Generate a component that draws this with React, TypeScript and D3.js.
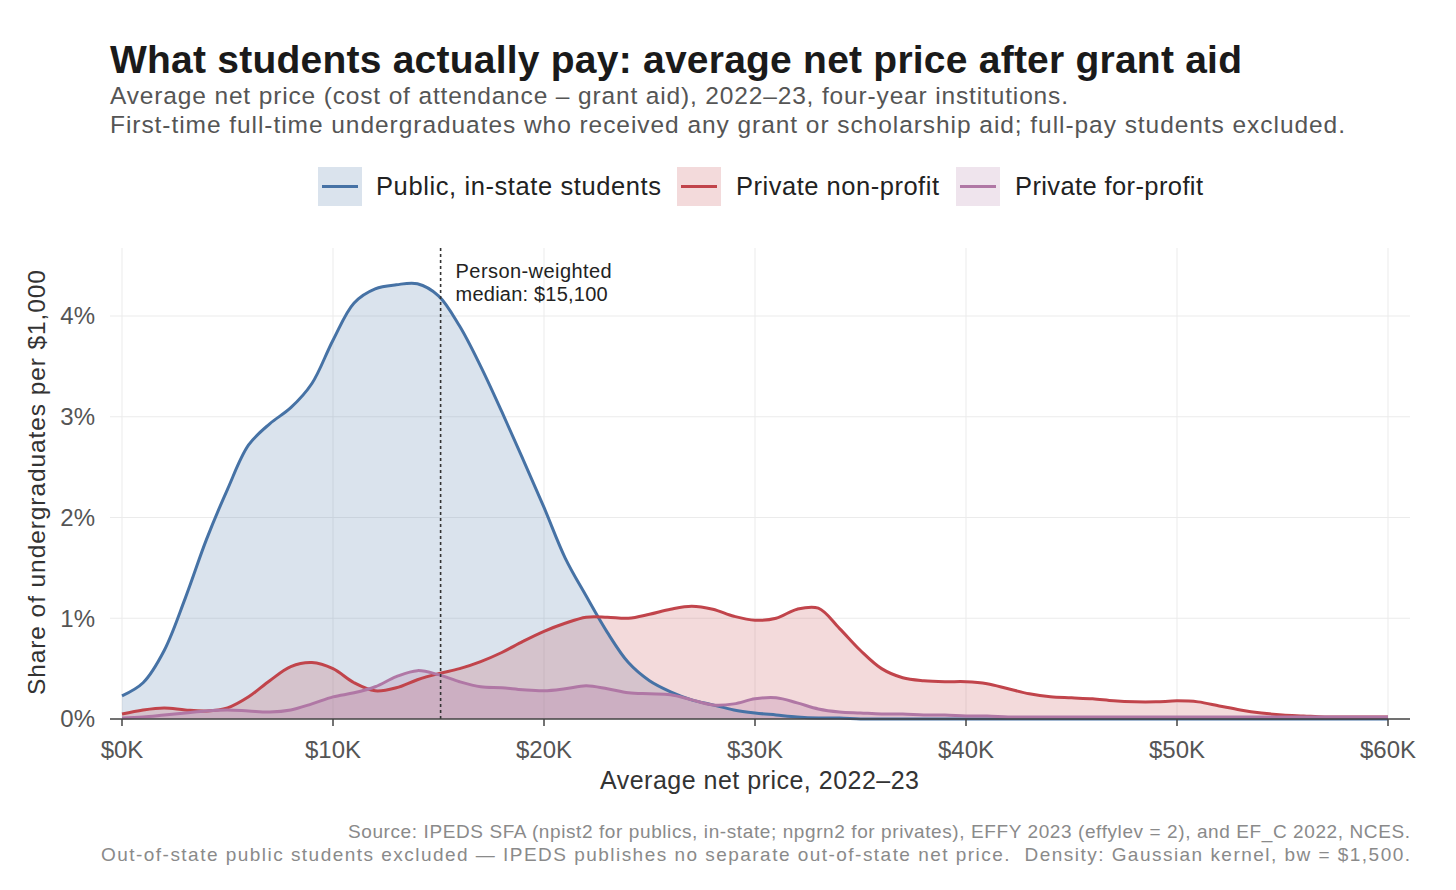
import React from 'react'
import * as d3 from 'd3'

// net price grid, $K
const priceK = d3.range(0, 61)

// share of undergraduates per $1,000 (%)
const publicInState = [
  0.23, 0.36, 0.68, 1.2, 1.78, 2.28, 2.72, 2.93, 3.09, 3.33,
  3.76, 4.13, 4.27, 4.31, 4.32, 4.2, 3.9, 3.5, 3.05, 2.58,
  2.1, 1.6, 1.22, 0.86, 0.56, 0.38, 0.27, 0.19, 0.14, 0.09,
  0.06, 0.04, 0.02, 0.01, 0.01, 0, 0, 0, 0, 0,
  0, 0, 0, 0, 0, 0, 0, 0, 0, 0,
  0, 0, 0, 0, 0, 0, 0, 0, 0, 0, 0,
]
const privateNonProfit = [
  0.05, 0.09, 0.11, 0.09, 0.08, 0.11, 0.22, 0.38, 0.52, 0.56,
  0.5, 0.36, 0.28, 0.31, 0.39, 0.45, 0.5, 0.57, 0.66, 0.77,
  0.87, 0.95, 1.01, 1.01, 1.0, 1.04, 1.09, 1.12, 1.09, 1.02,
  0.98, 1.0, 1.09, 1.1, 0.9, 0.68, 0.5, 0.41, 0.38, 0.37,
  0.37, 0.35, 0.3, 0.25, 0.22, 0.21, 0.2, 0.18, 0.17, 0.17,
  0.18, 0.17, 0.13, 0.09, 0.06, 0.04, 0.03, 0.02, 0.02, 0.02, 0.02,
]
const privateForProfit = [
  0.01, 0.02, 0.04, 0.06, 0.08, 0.09, 0.08, 0.07, 0.09, 0.15,
  0.22, 0.26, 0.32, 0.42, 0.48, 0.44, 0.37, 0.32, 0.31, 0.29,
  0.28, 0.3, 0.33, 0.3, 0.26, 0.25, 0.24, 0.19, 0.14, 0.15,
  0.2, 0.21, 0.16, 0.1, 0.07, 0.06, 0.05, 0.05, 0.04, 0.04,
  0.03, 0.03, 0.02, 0.02, 0.02, 0.02, 0.02, 0.02, 0.02, 0.02,
  0.02, 0.02, 0.02, 0.02, 0.02, 0.02, 0.02, 0.02, 0.02, 0.02, 0.02,
]

const seriesNames = ['Public, in-state students', 'Private non-profit', 'Private for-profit']
const seriesColors = ['#4672a5', '#c1444b', '#b077a5']
const seriesValues = [publicInState, privateNonProfit, privateForProfit]

const xTicks = [0, 10, 20, 30, 40, 50, 60]
const yTicks = [0, 1, 2, 3, 4]
const medianK = 15.1

const FONT = '"Liberation Sans", Arial, Helvetica, sans-serif'

// text fitted to the width it has in the original
const T = ({ len, children, ...rest }: any) => (
  <text textLength={len} lengthAdjust="spacing" {...rest}>{children}</text>
)

export default function App() {
  const W = 1456
  const H = 890
  const panel = { left: 110, right: 1410, top: 248, bottom: 719 }

  const x = d3.scaleLinear().domain([0, 60]).range([122, 1388])
  const y = d3.scaleLinear().domain([0, 4]).range([panel.bottom, panel.bottom - 403])

  const area = d3.area<number>()
    .x((_, i) => x(priceK[i]))
    .y0(y(0))
    .y1(d => y(d))
    .curve(d3.curveCatmullRom.alpha(0.5))
  const line = d3.line<number>()
    .x((_, i) => x(priceK[i]))
    .y(d => y(d))
    .curve(d3.curveCatmullRom.alpha(0.5))

  const legendItems = [
    { key: 318, text: 376, len: 285 },
    { key: 677, text: 736, len: 203 },
    { key: 956, text: 1015, len: 188 },
  ]

  return (
    <svg width={W} height={H} style={{ position: 'absolute', left: 0, top: 0 }} fontFamily={FONT}>
      <rect width={W} height={H} fill="#fff" />

      <T x={110} y={73} len={1132} fontSize={39} fontWeight="bold" fill="#1a1a1a">
        What students actually pay: average net price after grant aid
      </T>
      <T x={110} y={104} len={958} fontSize={24.5} fill="#555">
        Average net price (cost of attendance – grant aid), 2022–23, four-year institutions.
      </T>
      <T x={110} y={133} len={1235} fontSize={24.5} fill="#555">
        First-time full-time undergraduates who received any grant or scholarship aid; full-pay students excluded.
      </T>

      {legendItems.map((p, i) => (
        <g key={i}>
          <rect x={p.key} y={167} width={44} height={39} fill={seriesColors[i]} fillOpacity={0.2} />
          <line x1={p.key + 4} x2={p.key + 40} y1={186.5} y2={186.5} stroke={seriesColors[i]} strokeWidth={3} />
          <T x={p.text} y={195} len={p.len} fontSize={25.5} fill="#222">{seriesNames[i]}</T>
        </g>
      ))}

      {/* grid */}
      {yTicks.map(t => (
        <line key={'gy' + t} x1={panel.left} x2={panel.right} y1={y(t)} y2={y(t)} stroke="#ebebeb" strokeWidth={1} />
      ))}
      {xTicks.map(t => (
        <line key={'gx' + t} x1={x(t)} x2={x(t)} y1={panel.top} y2={panel.bottom} stroke="#ebebeb" strokeWidth={1} />
      ))}

      {seriesValues.map((vals, i) => (
        <path key={'a' + i} d={area(vals) ?? ''} fill={seriesColors[i]} fillOpacity={i === 2 ? 0.26 : 0.2} />
      ))}
      {seriesValues.map((vals, i) => (
        <path key={'l' + i} d={line(vals) ?? ''} fill="none" stroke={seriesColors[i]} strokeWidth={3} />
      ))}

      <line x1={x(medianK)} x2={x(medianK)} y1={panel.top} y2={panel.bottom} stroke="#333" strokeWidth={1.6} strokeDasharray="3,3" />
      <T x={x(medianK) + 15} y={278} len={156} fontSize={20} fill="#222">Person-weighted</T>
      <T x={x(medianK) + 15} y={301} len={152} fontSize={20} fill="#222">median: $15,100</T>

      {/* axes */}
      <line x1={panel.left} x2={panel.right} y1={panel.bottom} y2={panel.bottom} stroke="#444" strokeWidth={1.5} />
      {xTicks.map(t => (
        <g key={'xt' + t}>
          <line x1={x(t)} x2={x(t)} y1={panel.bottom} y2={panel.bottom + 7} stroke="#444" strokeWidth={1.5} />
          <text x={x(t)} y={758} textAnchor="middle" fontSize={24} fill="#555">{`$${t}K`}</text>
        </g>
      ))}
      {yTicks.map(t => (
        <text key={'yt' + t} x={95} y={y(t)} dy="0.35em" textAnchor="end" fontSize={24} fill="#555">{`${t}%`}</text>
      ))}

      <T x={600} y={789} len={319} fontSize={25} fill="#333">Average net price, 2022–23</T>
      <g transform="translate(45,695) rotate(-90)">
        <T x={0} y={0} len={425} fontSize={24.5} fill="#333">Share of undergraduates per $1,000</T>
      </g>

      <T x={348} y={838} len={1062} fontSize={19} fill="#8a8a8a">
        Source: IPEDS SFA (npist2 for publics, in-state; npgrn2 for privates), EFFY 2023 (effylev = 2), and EF_C 2022, NCES.
      </T>
      <T x={101} y={861} len={1309} fontSize={19} fill="#8a8a8a" style={{ whiteSpace: 'pre' }}>
        {'Out-of-state public students excluded — IPEDS publishes no separate out-of-state net price.  Density: Gaussian kernel, bw = $1,500.'}
      </T>
    </svg>
  )
}
